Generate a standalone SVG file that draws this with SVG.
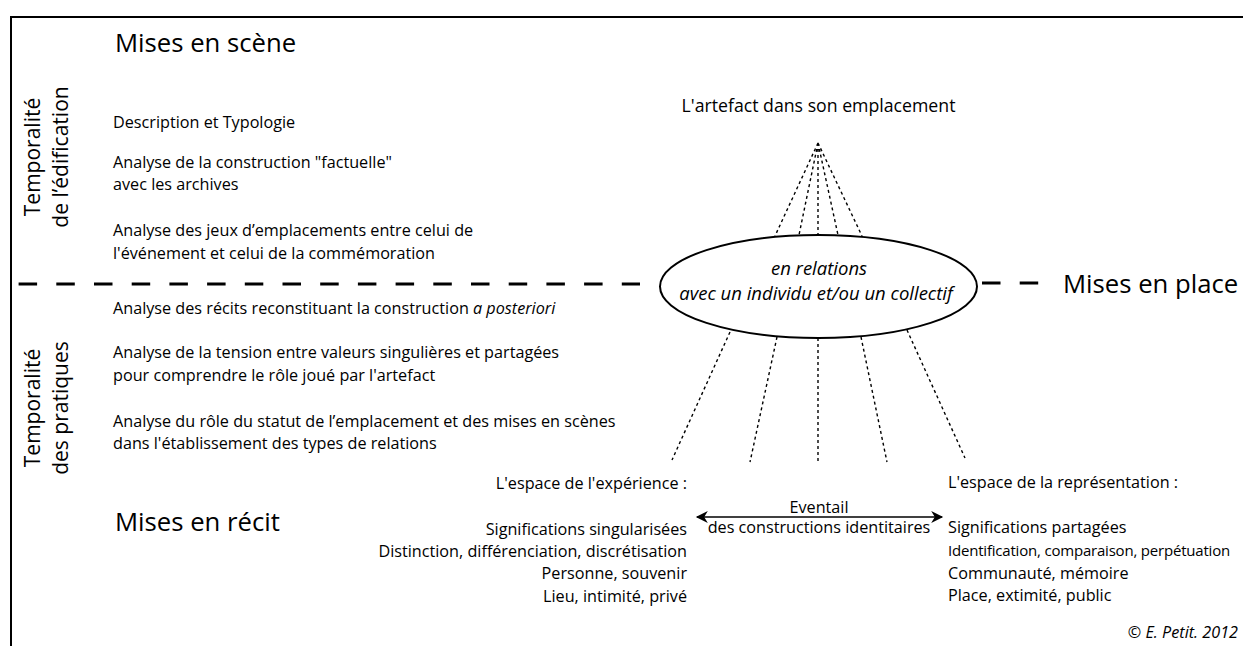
<svg xmlns="http://www.w3.org/2000/svg" width="1243" height="646" viewBox="0 0 1243 646">
<defs>
<style>
text{font-family:"Open Sans","Noto Sans",sans-serif;fill:#000}
.b{font-size:16.2px}
.t{font-size:15px;letter-spacing:-0.2px}
.h{font-size:25.7px}
.v{font-size:21px}
.l{font-size:17.7px}
.e{font-size:18.5px;font-style:italic}
.i{font-style:italic}
.dot{stroke:#000;stroke-width:1.4;stroke-dasharray:3 3;fill:none}
.dash{stroke:#000;stroke-width:3;stroke-dasharray:18.5 19.2;fill:none}
</style>
<marker id="ah" viewBox="0 0 10 10" refX="9" refY="5" markerWidth="14" markerHeight="12" markerUnits="userSpaceOnUse" orient="auto-start-reverse">
<path d="M0,0 L10,5 L0,10 L3,5 Z" fill="#000"/>
</marker>
</defs>
<rect x="0" y="0" width="1243" height="646" fill="#fff"/>
<path d="M11,646 V17 H1243" fill="none" stroke="#000" stroke-width="2"/>

<g id="headings">
<text class="h" x="115" y="52">Mises en scène</text>
<text class="h" x="115" y="531">Mises en récit</text>
<text class="h" x="1063" y="293">Mises en place</text>
</g>

<g id="temporalite-edification" text-anchor="middle">
<text class="v" transform="translate(40,157) rotate(-90)">Temporalité</text>
<text class="v" transform="translate(68,157) rotate(-90)">de l’édification</text>
</g>
<g id="temporalite-pratiques" text-anchor="middle">
<text class="v" transform="translate(40,408) rotate(-90)">Temporalité</text>
<text class="v" transform="translate(68,408) rotate(-90)">des pratiques</text>
</g>

<g id="edification-items">
<text class="b" x="113" y="128">Description et Typologie</text>
<text class="b" x="113" y="168">Analyse de la construction "factuelle"</text>
<text class="b" x="113" y="190">avec les archives</text>
<text class="b" x="113" y="236">Analyse des jeux d’emplacements entre celui de</text>
<text class="b" x="113" y="259">l'événement et celui de la commémoration</text>
</g>

<g id="pratiques-items">
<text class="b" x="113" y="314">Analyse des récits reconstituant la construction <tspan class="i">a posteriori</tspan></text>
<text class="b" x="113" y="358">Analyse de la tension entre valeurs singulières et partagées</text>
<text class="b" x="113" y="381">pour comprendre le rôle joué par l'artefact</text>
<text class="b" x="113" y="427">Analyse du rôle du statut de l’emplacement et des mises en scènes</text>
<text class="b" x="113" y="449">dans l'établissement des types de relations</text>
</g>

<g id="artefact">
<text class="l" x="818.5" y="112" text-anchor="middle">L'artefact dans son emplacement</text>
</g>

<g id="relations">
<ellipse cx="818.5" cy="286.5" rx="158.5" ry="51.5" fill="#fff" stroke="#000" stroke-width="2"/>
<text class="e" x="819" y="275" text-anchor="middle">en relations</text>
<text class="e" x="816" y="300" text-anchor="middle">avec un individu et/ou un collectif</text>
</g>

<g id="experience" text-anchor="end">
<text class="b" x="687" y="489">L'espace de l'expérience :</text>
<text class="b" x="687" y="535">Significations singularisées</text>
<text class="b" x="687" y="557">Distinction, différenciation, discrétisation</text>
<text class="b" x="687" y="579">Personne, souvenir</text>
<text class="b" x="687" y="602">Lieu, intimité, privé</text>
</g>

<g id="representation">
<text class="b" x="948" y="488">L'espace de la représentation :</text>
<text class="b" x="948" y="533">Significations partagées</text>
<text class="t" x="948" y="556">Identification, comparaison, perpétuation</text>
<text class="b" x="948" y="579">Communauté, mémoire</text>
<text class="b" x="948" y="601">Place, extimité, public</text>
</g>

<g id="eventail">
<text class="b" x="819" y="513" text-anchor="middle">Eventail</text>
<text class="b" x="819" y="533" text-anchor="middle">des constructions identitaires</text>
</g>

<g id="connectors">
<path class="dash" d="M18.6,284 H640"/>
<path class="dash" d="M982,283 H1040"/>
<path class="dot" d="M818,143 L775,236 M818,143 L799,235 M818,143 L818,234 M818,143 L838,235 M818,143 L862,236"/>
<path class="dot" d="M730,332 L672,460 M777,337 L750,462 M818,338 L818,463 M861,337 L887,462 M907,330 L965,458"/>
<line x1="697" y1="517" x2="942" y2="517" stroke="#000" stroke-width="1.5" marker-start="url(#ah)" marker-end="url(#ah)"/>
</g>

<text class="b i" x="1238" y="638" text-anchor="end">© E. Petit. 2012</text>
</svg>
